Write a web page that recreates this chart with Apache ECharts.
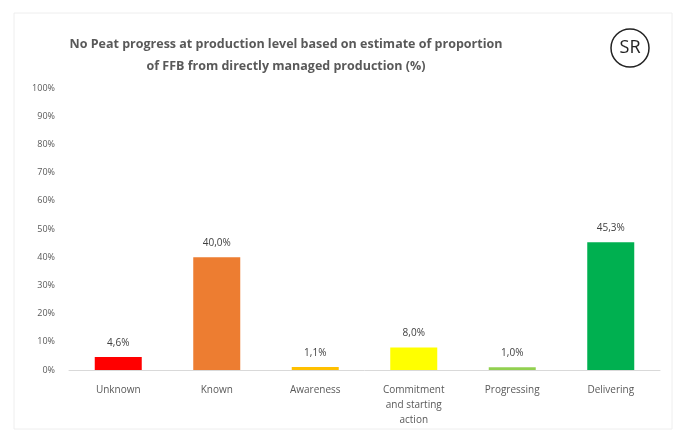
<!DOCTYPE html>
<html>
<head>
<meta charset="utf-8">
<script src="https://cdn.jsdelivr.net/npm/echarts@6/dist/echarts.min.js"></script>
<style>
  html, body { margin: 0; padding: 0; background: #fff; }
  #chart { width: 684px; height: 437px; }
</style>
</head>
<body>
<div id="chart"></div>
<script>
// data
const categories = ['Unknown', 'Known', 'Awareness', 'Commitment\nand starting\naction', 'Progressing', 'Delivering']
const values = [4.6, 40.0, 1.1, 8.0, 1.0, 45.3]
const barColors = ['#ff0000', '#ed7d31', '#ffc000', '#ffff00', '#92d050', '#00b050']
const yTicks = [0, 10, 20, 30, 40, 50, 60, 70, 80, 90, 100]

const chart = echarts.init(document.getElementById('chart'))

chart.setOption({
  animation: false,
  title: {
    text: 'No Peat progress at production level based on estimate of proportion\nof FFB from directly managed production (%)',
    left: 281,
    textAlign: 'center',
    top: 28,
    textStyle: {
      fontFamily: 'Open Sans',
      fontSize: 12.5,
      fontWeight: 'bold',
      color: '#595959',
      lineHeight: 22
    }
  },
  graphic: [
    {
      type: 'rect',
      shape: { x: 14, y: 13, width: 658, height: 416 },
      style: { fill: 'none', stroke: '#eeeeee', lineWidth: 1 }
    },
    {
      type: 'circle',
      shape: { cx: 630, cy: 48, r: 19 },
      style: { fill: '#fff', stroke: '#222', lineWidth: 1.5 }
    },
    {
      type: 'text',
      x: 630, y: 48,
      style: {
        text: 'SR', fontSize: 18, fontFamily: 'Open Sans',
        fill: '#222', align: 'center', verticalAlign: 'middle'
      }
    }
  ],
  grid: { left: 69, right: 24, top: 88, bottom: 67 },
  xAxis: {
    type: 'category',
    data: categories,
    axisLine: { lineStyle: { color: '#d9d9d9' } },
    axisTick: { show: false },
    axisLabel: {
      color: '#595959',
      fontFamily: 'Open Sans',
      fontSize: 10,
      margin: 13,
      lineHeight: 15,
      interval: 0
    }
  },
  yAxis: {
    type: 'value',
    min: yTicks[0],
    max: yTicks[yTicks.length - 1],
    interval: 10,
    splitLine: { show: false },
    axisLine: { show: false },
    axisTick: { show: false },
    axisLabel: {
      color: '#595959',
      fontFamily: 'Open Sans',
      fontSize: 9,
      margin: 14,
      formatter: v => v + '%'
    }
  },
  series: [{
    type: 'bar',
    barWidth: 47,
    data: values.map((v, i) => ({ value: v, itemStyle: { color: barColors[i] } })),
    label: {
      show: true,
      position: 'top',
      distance: 9,
      color: '#404040',
      fontFamily: 'Open Sans',
      fontSize: 10,
      formatter: p => p.value.toFixed(1).replace('.', ',') + '%'
    }
  }]
})
</script>
</body>
</html>
